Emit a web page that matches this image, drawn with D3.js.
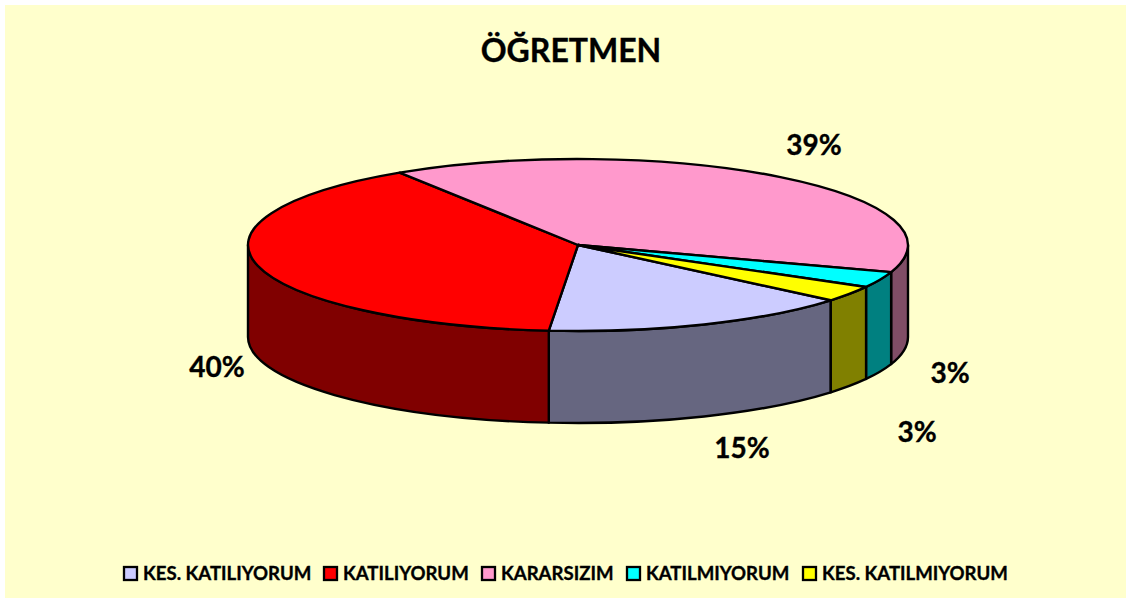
<!DOCTYPE html>
<html lang="tr">
<head>
<meta charset="UTF-8">
<title>ÖĞRETMEN</title>
<script src="https://d3js.org/d3.v7.min.js"></script>
<style>
  html, body { margin: 0; padding: 0; background: #fff; }
  svg { display: block; }
  text { font-family: Lato, sans-serif; font-weight: 700; fill: #000; stroke: #000; stroke-width: 0.35px; }
</style>
</head>
<body>
<div id="chart"></div>
<script>
const title = "ÖĞRETMEN";
const categories = ["KES. KATILIYORUM", "KATILIYORUM", "KARARSIZIM", "KATILMIYORUM", "KES. KATILMIYORUM"];
// they round to the printed 15/40/39/3/3
const values = [15.3, 39.5, 39.2, 3, 3];
const topColors = ["#CCCCFF", "#FF0000", "#FF99CC", "#00FFFF", "#FFFF00"];
const sideColors = ["#666680", "#800000", "#804D66", "#008080", "#808000"];

const w = 1126, h = 598;
const cx = 578, cy = 245, rx = 330, ry = 86, depth = 92;
const startAngle = 130 * Math.PI / 180;

const svg = d3.select("#chart").append("svg").attr("width", w).attr("height", h);

svg.append("rect").attr("x", 5).attr("y", 5).attr("width", w - 5).attr("height", h - 5).attr("fill", "#FFFFCC");

svg.append("text").attr("x", 571).attr("y", 62).attr("text-anchor", "middle")
   .style("font-size", "32px").text(title);

const pie = d3.pie().sort(null).value(d => d)
              .startAngle(startAngle).endAngle(startAngle + 2 * Math.PI);
const slices = pie(values);

// flat circle squashed into an ellipse
const x = d3.scaleLinear().domain([-1, 1]).range([cx - rx, cx + rx]);
const y = d3.scaleLinear().domain([-1, 1]).range([cy - ry, cy + ry]);
const px = a => x(Math.sin(a));
const py = a => y(-Math.cos(a));

// part of a slice that faces the viewer (90deg to 270deg clockwise from top)
function visible(s) {
  const out = [];
  [-2, 0, 2].forEach(k => {
    const a = Math.max(s.startAngle, Math.PI / 2 + k * Math.PI);
    const b = Math.min(s.endAngle, 3 * Math.PI / 2 + k * Math.PI);
    if (b > a) out.push([a, b]);
  });
  return out;
}

const walls = [];
slices.forEach((s, i) => visible(s).forEach(v => walls.push({ a: v[0], b: v[1], i })));

svg.append("g").selectAll("path").data(walls).enter().append("path")
   .attr("d", d => `M${px(d.a)},${py(d.a)}A${rx},${ry} 0 0 1 ${px(d.b)},${py(d.b)}` +
                   `L${px(d.b)},${py(d.b) + depth}A${rx},${ry} 0 0 0 ${px(d.a)},${py(d.a) + depth}Z`)
   .attr("fill", d => sideColors[d.i])
   .attr("stroke", "#000").attr("stroke-width", 2.4).attr("stroke-linejoin", "round");

const arc = d3.arc().innerRadius(0).outerRadius(rx);
svg.append("g")
   .attr("transform", `translate(${cx},${cy}) scale(1,${ry / rx})`)
   .selectAll("path").data(slices).enter().append("path")
   .attr("d", arc)
   .attr("fill", (d, i) => topColors[i])
   .attr("stroke", "#000").attr("stroke-width", 2.4).attr("stroke-linejoin", "round")
   .attr("vector-effect", "non-scaling-stroke");

// percent labels, placed by hand like the original
const labelSpots = [[742, 458], [217, 377], [814, 155], [950, 383], [917, 442]];
svg.append("g").selectAll("text").data(values).enter().append("text")
   .attr("x", (d, i) => labelSpots[i][0]).attr("y", (d, i) => labelSpots[i][1])
   .attr("text-anchor", "middle").style("font-size", "28px")
   .text(d => Math.round(d) + "%");

// legend
const legendX = [123, 323, 481, 626, 802];
const legend = svg.append("g").selectAll("g").data(categories).enter().append("g")
   .attr("transform", (d, i) => `translate(${legendX[i]},566)`);
legend.append("rect").attr("x", 1).attr("y", 1).attr("width", 13).attr("height", 13)
   .attr("fill", (d, i) => topColors[i]).attr("stroke", "#000").attr("stroke-width", 2.3);
legend.append("text").attr("x", 20).attr("y", 14).style("font-size", "18.6px").text(d => d);
</script>
</body>
</html>
